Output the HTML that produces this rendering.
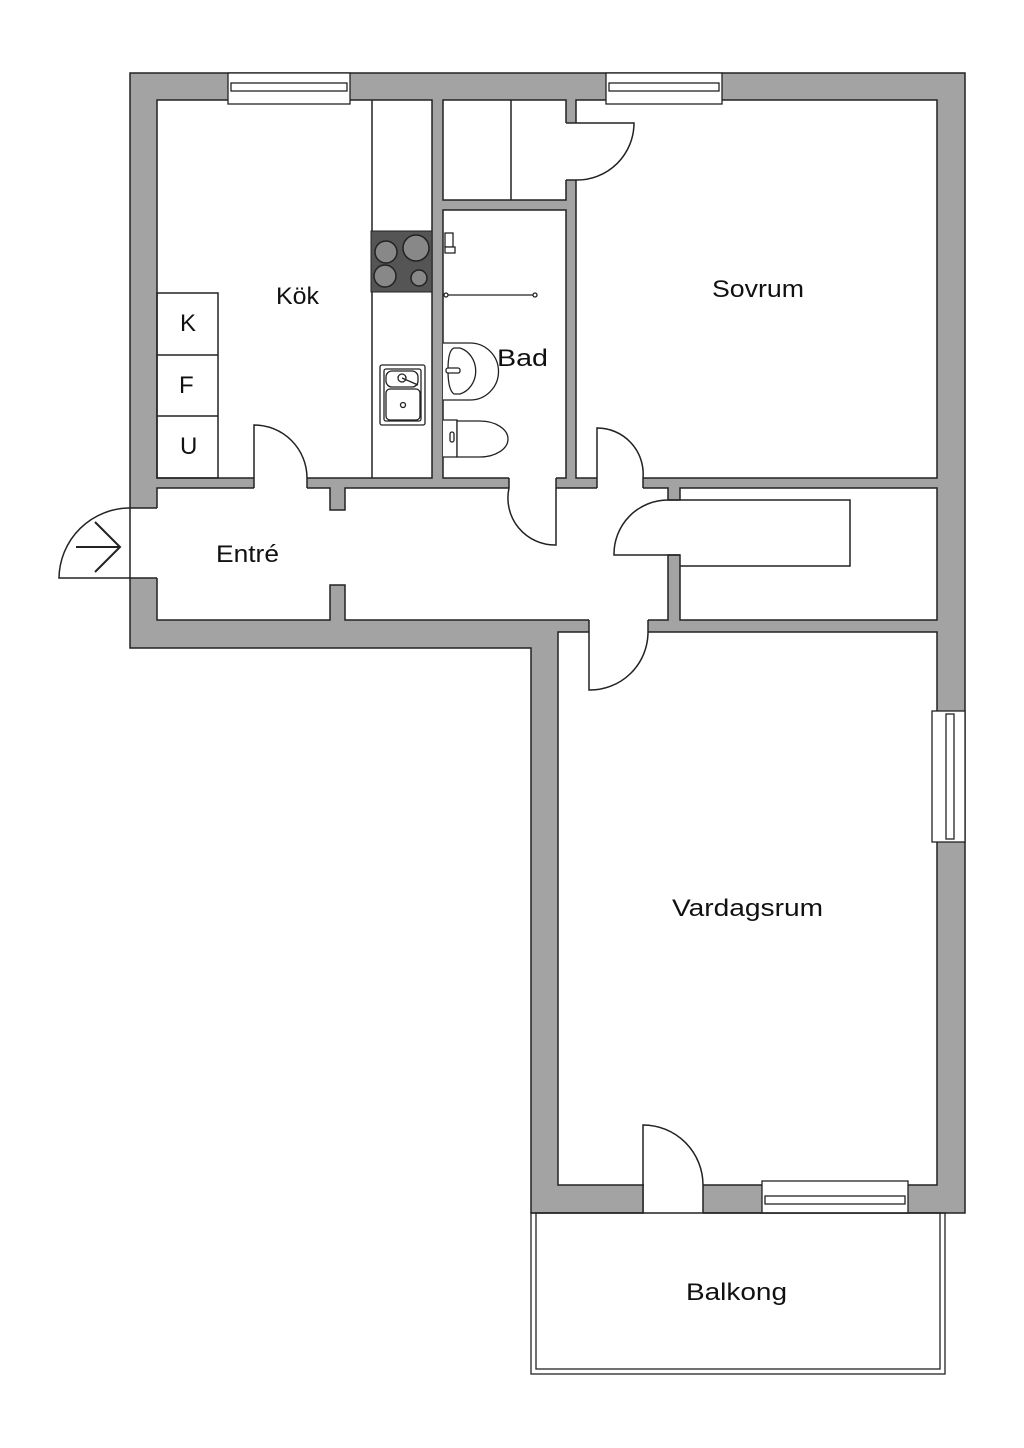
<!DOCTYPE html>
<html><head><meta charset="utf-8"><style>
html,body{margin:0;padding:0;background:#fff;}
svg{display:block;}
text{font-family:"Liberation Sans",sans-serif;font-size:24px;fill:#111;}
</style></head><body>
<svg width="1024" height="1448" viewBox="0 0 1024 1448" xmlns="http://www.w3.org/2000/svg">
<g stroke="#222" stroke-width="1.5">
<polygon points="130,73 965,73 965,1213 531,1213 531,648 130,648" fill="#a3a3a3"/>
<rect x="157" y="100" width="275" height="378" fill="#fff"/>
<rect x="443" y="100" width="123" height="100" fill="#fff"/>
<rect x="443" y="210" width="123" height="268" fill="#fff"/>
<rect x="576" y="100" width="361" height="378" fill="#fff"/>
<polygon points="157,488 330,488 330,510 345,510 345,488 668,488 668,500 680,500 680,488 937,488 937,620 680,620 680,555 668,555 668,620 345,620 345,585 330,585 330,620 157,620" fill="#fff"/>
<rect x="558" y="632" width="379" height="553" fill="#fff"/>
</g>
<g fill="#fff" stroke="none">
<rect x="254" y="477" width="53" height="12"/>
<rect x="509" y="477" width="47" height="12"/>
<rect x="597" y="477" width="46" height="12"/>
<rect x="667" y="501" width="14" height="53"/>
<rect x="589" y="619" width="59" height="14"/>
<rect x="644" y="1184" width="59" height="30"/>
<rect x="128" y="508" width="30" height="70"/>
<rect x="565" y="123" width="12" height="57"/>
</g>
<g stroke="#222" stroke-width="1.5" fill="none">
<line x1="254" y1="478" x2="254" y2="488"/><line x1="307" y1="478" x2="307" y2="488"/>
<line x1="509" y1="478" x2="509" y2="488"/><line x1="556" y1="478" x2="556" y2="488"/>
<line x1="597" y1="478" x2="597" y2="488"/><line x1="643" y1="478" x2="643" y2="488"/>
<line x1="668" y1="500" x2="680" y2="500"/><line x1="668" y1="555" x2="680" y2="555"/>
<line x1="589" y1="620" x2="589" y2="632"/><line x1="648" y1="620" x2="648" y2="632"/>
<line x1="130" y1="508" x2="157" y2="508"/><line x1="130" y1="578" x2="157" y2="578"/>
<line x1="566" y1="123" x2="576" y2="123"/><line x1="566" y1="180" x2="576" y2="180"/>
<path d="M254,478 V425 A53,53 0 0 1 307,478"/>
<path d="M556,488 V545 A47,47 0 0 1 509,488"/>
<path d="M597,478 V428 A46,46 0 0 1 643,478"/>
<path d="M668,555 H614 A54,54 0 0 1 668,500"/>
<path d="M589,632 V690 A58,58 0 0 0 648,632"/>
<path d="M643,1213 V1125 A60,60 0 0 1 703,1185 V1213"/>
<path d="M576,123 H634 A57,57 0 0 1 576,180"/>
<path d="M130,508 V578 H59 A71,71 0 0 1 130,508"/>
<path d="M76,547 H120 M95,522 L120,547 L95,572" stroke-width="2"/>
<line x1="511" y1="100" x2="511" y2="200"/>
<polyline points="680,500 850,500 850,566 680,566"/>
<line x1="372" y1="100" x2="372" y2="478"/>
<rect x="157" y="293" width="61" height="185"/>
<line x1="157" y1="355" x2="218" y2="355"/><line x1="157" y1="416" x2="218" y2="416"/>
</g>
<rect x="371" y="231" width="61" height="61" fill="#555" stroke="#222"/>
<g fill="#888" stroke="#222" stroke-width="1.5">
<circle cx="386" cy="252" r="11"/><circle cx="416" cy="248" r="13"/>
<circle cx="385" cy="276" r="11"/><circle cx="419" cy="278" r="8"/>
</g>
<g fill="#fff" stroke="#222" stroke-width="1.3">
<rect x="380" y="365" width="45" height="60" rx="2"/>
<rect x="384" y="369" width="37" height="52" rx="2"/>
<rect x="386" y="371" width="32" height="16" rx="6"/>
<rect x="386" y="389" width="34" height="31" rx="4"/>
<circle cx="402" cy="378" r="4"/><line x1="402" y1="378" x2="418" y2="385"/>
<circle cx="403" cy="405" r="2.5"/>
</g>
<g fill="#fff" stroke="#222" stroke-width="1.3">
<path d="M443,343 H470 A28,28 0 0 1 470,400 H443"/>
<path d="M460,348 A22,24 0 0 1 460,394 L454,394 Q448,390 448,370 Q448,350 454,348 Z"/>
<rect x="446" y="368" width="14" height="5" rx="2"/>
<path d="M443,420 H457 V457 H443"/>
<path d="M457,421 H480 A28,18 0 0 1 480,457 H457 Z"/>
<rect x="450" y="432" width="4" height="10" rx="2"/>
<line x1="445" y1="295" x2="536" y2="295"/>
<circle cx="446" cy="295" r="2"/><circle cx="535" cy="295" r="2"/>
<rect x="445" y="233" width="8" height="14"/><path d="M445,247 h10 v6 h-10 z"/>
</g>
<g fill="#fff" stroke="#222" stroke-width="1.3">
<rect x="228" y="73" width="122" height="31"/>
<rect x="231" y="83" width="116" height="8"/>
<rect x="606" y="73" width="116" height="31"/>
<rect x="609" y="83" width="110" height="8"/>
<rect x="932" y="711" width="33" height="131"/>
<rect x="946" y="714" width="8" height="125"/>
<rect x="762" y="1181" width="146" height="32"/>
<rect x="765" y="1196" width="140" height="8"/>
</g>
<g fill="none" stroke="#222" stroke-width="1.3">
<rect x="531" y="1213" width="414" height="161"/>
<rect x="536" y="1213" width="404" height="156"/>
</g>
<text x="276" y="304" textLength="43" lengthAdjust="spacingAndGlyphs">Kök</text>
<text x="180" y="331">K</text>
<text x="179" y="393">F</text>
<text x="180" y="454">U</text>
<text x="497" y="366" textLength="51" lengthAdjust="spacingAndGlyphs">Bad</text>
<text x="712" y="297" textLength="92" lengthAdjust="spacingAndGlyphs">Sovrum</text>
<text x="216" y="562" textLength="63" lengthAdjust="spacingAndGlyphs">Entré</text>
<text x="672" y="916" textLength="151" lengthAdjust="spacingAndGlyphs">Vardagsrum</text>
<text x="686" y="1300" textLength="101" lengthAdjust="spacingAndGlyphs">Balkong</text>
</svg>
</body></html>
